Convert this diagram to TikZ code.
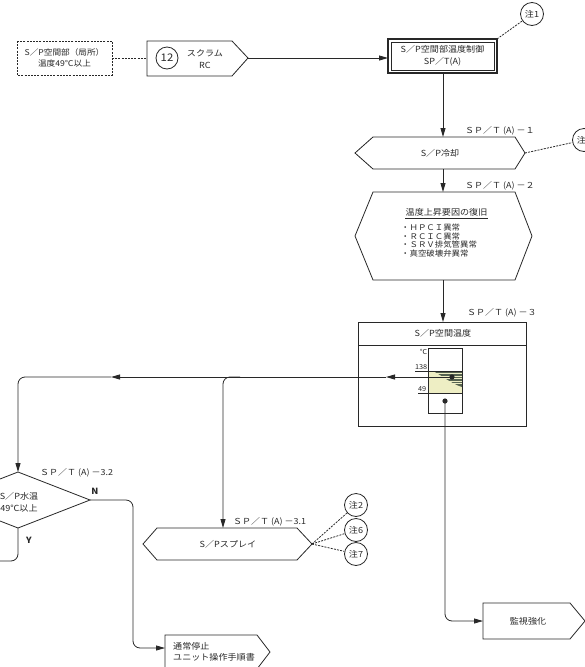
\documentclass[tikz,border=0pt]{standalone}
\usepackage{fontspec}
\setmainfont{Noto Sans CJK JP}[FakeStretch=1.08]
\usetikzlibrary{arrows.meta}
\definecolor{ink}{RGB}{40,40,40}
\definecolor{paleyel}{RGB}{238,238,196}
\definecolor{darkhatch}{RGB}{85,98,80}
\tikzset{
  line/.style={draw=ink, line width=0.8pt},
  arr/.style={line, -{Triangle[length=9pt,width=5pt]}},
  dline/.style={draw=ink, line width=0.8pt, dash pattern=on 2pt off 1.2pt},
  txt/.style={font=\fontsize{8.4}{11.5}\selectfont, inner sep=0pt, align=center, text=ink},
  lab/.style={font=\fontsize{8.3}{9}\selectfont, inner sep=0pt, anchor=west, text=ink},
  note/.style={circle, draw=ink, line width=0.8pt, minimum size=23pt, inner sep=0pt,
    font=\fontsize{8.4}{9}\selectfont, text=ink, fill=white},
  small/.style={font=\fontsize{6.8}{7}\selectfont, inner sep=0pt, text=ink},
}
\begin{document}
\begin{tikzpicture}[x=1pt,y=-1pt]
\useasboundingbox (0,0) rectangle (585,667);
\clip (0,0) rectangle (585,667);
\fill[white] (0,0) rectangle (585,667);

% ---- top row
\draw[dline] (17,41) rectangle (112,75);
\node[txt, font=\fontsize{8}{11.5}\selectfont] (local) at (64.5,58) {S／P空間部（局所）\\温度49℃以上};
\coordinate (localR) at (112,58);

\draw[line] (147,41) -- (232,41) -- (248,58) -- (232,76) -- (147,76) -- cycle;
\coordinate (scramL) at (147,58);
\coordinate (scramR) at (248,58);
\node[circle, draw=ink, line width=0.8pt, minimum size=22pt, inner sep=0pt,
      font=\fontsize{10.5}{11}\selectfont, text=ink] (c12) at (167,58) {12};
\node[txt] (scram) at (205,59) {スクラム\\RC};

\draw[ink, line width=1.3pt] (388,39) rectangle (497,73);
\draw[ink, line width=0.6pt] (391,42) rectangle (494,70);
\node[txt] (ctrl) at (442.5,56) {S／P空間部温度制御\\SP／T(A)};
\coordinate (ctrlL) at (388,58);
\coordinate (ctrlB) at (443,73);
\coordinate (ctrlNE) at (497,39);
\node[note] (n1) at (532,14) {注1};

\draw[dline] (localR) -- (scramL);
\draw[arr] (scramR) -- (ctrlL);
\draw[dline] (ctrlNE) -- (n1);

% ---- cooling
\draw[line] (355,153) -- (373,137) -- (515,137) -- (525,153) -- (515,169) -- (373,169) -- cycle;
\node[txt] (cool) at (440,153) {S／P冷却};
\coordinate (coolT) at (443,137);
\coordinate (coolB) at (443,169);
\coordinate (coolR) at (525,153);
\node[lab] (l1) at (465,131) {ＳＰ／Ｔ (A) －１};
\node[note] (n0) at (584,140) {注\hphantom{1}};
\draw[arr] (ctrlB) -- (coolT);
\draw[dline] (coolR) -- (n0);

% ---- recovery
\draw[line] (355,236) -- (373,192) -- (515,192) -- (532,236) -- (515,280) -- (373,280) -- cycle;
\coordinate (recT) at (443,192);
\coordinate (recB) at (443,280);
\node[lab] (l2) at (465,186) {ＳＰ／Ｔ (A) －２};
\node[txt] (rectitle) at (446.5,212.5) {温度上昇要因の復旧};
\draw[ink, line width=0.6pt] ([yshift=-2pt]rectitle.south west) -- ([yshift=-2pt]rectitle.south east);
\node[txt, anchor=west, align=left, font=\fontsize{7.8}{8.5}\selectfont] (reclist) at (401,240.5)
  {・ＨＰＣＩ異常\\・ＲＣＩＣ異常\\・ＳＲＶ排気管異常\\・真空破壊弁異常};
\draw[arr] (coolB) -- (recT);

% ---- temperature box
\draw[line] (358,322) rectangle (526,426);
\draw[line] (358,345) -- (526,345);
\node[txt] (temptitle) at (443,333.5) {S／P空間温度};
\coordinate (tempT) at (443,322);
\node[lab] (l3) at (467,313) {ＳＰ／Ｔ (A) －３};
\draw[arr] (recB) -- (tempT);

\fill[paleyel] (428,371) rectangle (462,393);
\fill[darkhatch] (433,371) -- (462,371) -- (462,387) .. controls (452,384) and (441,375) .. (433,371) -- cycle;
\foreach \yy in {373.5,376,378.5,381,383.5} {\draw[paleyel, line width=0.35pt] (430,\yy) -- (462,\yy);}
\draw[ink, line width=0.7pt] (428,348) rectangle (462,413);
\draw[ink, line width=0.7pt] (415,371) -- (462,371);
\draw[ink, line width=0.7pt] (418,393) -- (462,393);
\node[small, anchor=east] (degc) at (427.5,352) {℃};
\node[small, anchor=south east] (t138) at (427.5,370) {138};
\node[small, anchor=south east] (t49) at (426.5,392) {49};
\fill[ink] (452,377) circle (2.6pt);
\coordinate (dotA) at (452,377);
\fill[ink] (445,401) circle (2.6pt);
\coordinate (dotB) at (445,401);

% ---- left branch
\coordinate (m1) at (386,377);
\coordinate (m2) at (111,377);
\coordinate (corL) at (18,377);
\coordinate (dT) at (18,472);
\coordinate (brS) at (240,377);
\coordinate (corB) at (223,377);
\coordinate (spT) at (223,528);
\draw[arr] (dotA) -- (m1);
\draw[arr] (m1) -- (m2);
\draw[arr, rounded corners=7pt] (m2) -- (corL) -- (dT);
\draw[arr, rounded corners=7pt] (brS) -- (corB) -- (spT);

% ---- diamond
\draw[line] (18,472) -- (90,500) -- (18,528) -- (-54,500) -- cycle;
\coordinate (dR) at (90,500);
\coordinate (dB) at (18,528);
\node[txt] (dtext) at (19,502.5) {S／P水温\\49℃以上};
\node[lab] (l32) at (40,473) {ＳＰ／Ｔ (A) －3.2};
\node[txt, font=\fontsize{8.5}{9}\bfseries\selectfont] (N) at (95,491) {N};
\node[txt, font=\fontsize{8.5}{9}\bfseries\selectfont] (Y) at (29,540) {Y};
\coordinate (nC1) at (133,500);
\coordinate (nC2) at (133,648);
\coordinate (stopL) at (165,648);
\coordinate (yC) at (18,561);
\coordinate (yE) at (-6,561);
\draw[arr, rounded corners=7pt] (dR) -- (nC1) -- (nC2) -- (stopL);
\draw[line, rounded corners=7pt] (dB) -- (yC) -- (yE);

% ---- spray
\draw[line] (143,544) -- (157,528) -- (297,528) -- (312,544) -- (297,560) -- (157,560) -- cycle;
\node[txt] (spray) at (228,544) {S／Pスプレイ};
\coordinate (spR) at (312,544);
\node[lab] (l31) at (233,522) {ＳＰ／Ｔ (A) －3.1};
\node[note] (n2) at (356,505) {注2};
\node[note] (n6) at (356,530) {注6};
\node[note] (n7) at (356,554) {注7};
\draw[dline] (spR) -- (n2);
\draw[dline] (spR) -- (n6);
\draw[dline] (spR) -- (n7);

% ---- normal stop
\draw[line] (165,635) -- (257,635) -- (270,652) -- (257,669) -- (165,669) -- cycle;
\node[txt, anchor=west, align=left] (stop) at (173,652) {通常停止\\ユニット操作手順書};

% ---- monitoring
\coordinate (mC) at (445,621);
\coordinate (monL) at (483,621);
\draw[line] (483,603) -- (570,603) -- (585,621) -- (570,639) -- (483,639) -- cycle;
\node[txt] (mon) at (528,621) {監視強化};
\draw[arr, rounded corners=7pt] (dotB) -- (mC) -- (monL);
\end{tikzpicture}
\end{document}
